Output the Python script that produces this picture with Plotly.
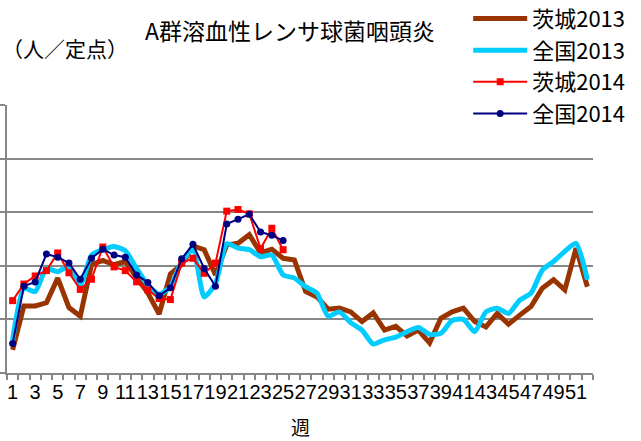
import plotly.graph_objects as go

weeks2013 = list(range(1, 53))
weeks2014 = list(range(1, 26))

ibaraki2013 = [0.43, 1.25, 1.25, 1.31, 1.77, 1.22, 1.06, 2.02, 2.10, 2.02,
               2.08, 1.80, 1.49, 1.10, 1.85, 2.02, 2.37, 2.30, 1.83, 2.39,
               2.42, 2.58, 2.24, 2.31, 2.14, 2.11, 1.52, 1.42, 1.19, 1.21,
               1.14, 0.96, 1.12, 0.80, 0.87, 0.69, 0.80, 0.56, 1.02, 1.14,
               1.21, 0.96, 0.86, 1.11, 0.91, 1.08, 1.24, 1.58, 1.74, 1.55,
               2.33, 1.61]
zenkoku2013 = [0.61, 1.58, 1.52, 1.95, 1.89, 1.99, 1.64, 2.20, 2.30, 2.36,
               2.28, 1.95, 1.64, 1.47, 1.61, 2.08, 2.30, 1.42, 1.67, 2.41,
               2.33, 2.30, 2.17, 2.20, 1.83, 1.77, 1.61, 1.49, 1.06, 1.14,
               0.94, 0.80, 0.54, 0.62, 0.67, 0.77, 0.85, 0.72, 0.74, 0.98,
               1.00, 0.77, 1.14, 1.21, 1.11, 1.36, 1.49, 1.92, 2.08, 2.27,
               2.42, 1.74]
ibaraki2014 = [1.35, 1.66, 1.81, 1.91, 2.24, 1.87, 1.56, 1.75, 2.35, 1.98,
               1.91, 1.70, 1.55, 1.39, 1.37, 2.05, 2.14, 1.86, 2.05, 3.02,
               3.05, 2.97, 2.32, 2.70, 2.30]
zenkoku2014 = [0.55, 1.62, 1.70, 2.22, 2.16, 2.05, 1.75, 2.14, 2.31, 2.20,
               2.16, 1.83, 1.69, 1.44, 1.59, 2.13, 2.40, 1.95, 1.62, 2.78,
               2.87, 2.96, 2.63, 2.57, 2.47]

tick_weeks = list(range(1, 53, 2))
tick_labels = [str(w) for w in tick_weeks]

title_text = "A群溶血性レンサ球菌咽頭炎"
unit_text = "（人／定点）"
xaxis_title = "週"

JP = "Noto Sans CJK JP"
GRID = "#878787"

fig = go.Figure()
fig.add_trace(go.Scatter(x=weeks2013, y=ibaraki2013, name="茨城2013", mode="lines",
                         line=dict(color="#993300", width=5)))
fig.add_trace(go.Scatter(x=weeks2013, y=zenkoku2013, name="全国2013", mode="lines",
                         line=dict(color="#00CCFF", width=5, shape="spline", smoothing=0.6)))
fig.add_trace(go.Scatter(x=weeks2014, y=ibaraki2014, name="茨城2014", mode="lines+markers",
                         line=dict(color="#FF0000", width=2),
                         marker=dict(symbol="square", size=7, color="#FF0000")))
fig.add_trace(go.Scatter(x=weeks2014, y=zenkoku2014, name="全国2014", mode="lines+markers",
                         line=dict(color="#000080", width=2),
                         marker=dict(symbol="circle", size=7, color="#000080")))

fig.update_layout(
    width=641, height=441,
    margin=dict(l=7, r=48, t=105, b=68, autoexpand=False),
    paper_bgcolor="white", plot_bgcolor="white",
    font=dict(family=JP, color="black"),
    showlegend=True,
    legend=dict(x=0.787, y=1.40, xanchor="left", yanchor="top",
                bgcolor="rgba(0,0,0,0)", font=dict(family=JP, size=22),
                itemwidth=54, tracegroupgap=0),
    xaxis=dict(range=[0.5, 52.5], tickmode="array", tickvals=tick_weeks,
               ticktext=tick_labels, ticks="", tickangle=0,
               tickfont=dict(family="Liberation Sans Narrow, Liberation Sans", size=20),
               showline=True, linecolor=GRID, linewidth=2, showgrid=False, zeroline=False,
               minor=dict(tickmode="array", tickvals=[w + 0.5 for w in range(0, 53)],
                          ticks="outside", ticklen=5, tickcolor=GRID, tickwidth=1.5)),
    yaxis=dict(range=[0, 5], dtick=1, tick0=0, showticklabels=False,
               ticks="outside", ticklen=6, tickcolor=GRID, tickwidth=2,
               showline=True, linecolor=GRID, linewidth=2,
               showgrid=True, gridcolor=GRID, gridwidth=2, zeroline=False),
    annotations=[
        dict(text=title_text, x=0.483, y=1.28, xref="paper", yref="paper",
             xanchor="center", yanchor="middle", showarrow=False,
             font=dict(family=JP, size=23)),
        dict(text=unit_text, x=0.099, y=1.213, xref="paper", yref="paper",
             xanchor="center", yanchor="middle", showarrow=False,
             font=dict(family=JP, size=21)),
        dict(text=xaxis_title, x=0.5, y=-0.2, xref="paper", yref="paper",
             xanchor="center", yanchor="middle", showarrow=False,
             font=dict(family=JP, size=19)),
    ],
)

fig.write_html("out.html", config={"displayModeBar": False},
               post_script="document.body.style.margin='0';document.body.style.overflow='hidden';")
